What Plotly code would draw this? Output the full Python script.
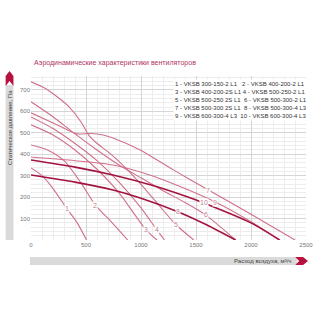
import numpy as np
import plotly.graph_objects as go

# ---- data ----
flow_1 = [0, 100, 200, 328, 420, 505]
pres_1 = [336, 300, 240, 145, 80, 0]
flow_2 = [0, 150, 300, 450, 585, 730, 880]
pres_2 = [443, 420, 370, 270, 163, 85, 0]
flow_3 = [0, 200, 400, 600, 800, 1046, 1145]
pres_3 = [537, 490, 420, 330, 220, 47, 0]
flow_4 = [0, 200, 400, 600, 800, 1000, 1144, 1214]
pres_4 = [574, 520, 450, 370, 270, 150, 47, 0]
flow_5 = [0, 124, 240, 346, 461, 523, 585, 700, 816, 1000, 1200, 1320, 1480]
pres_5 = [738, 709, 667, 621, 546, 490, 457, 411, 359, 260, 140, 70, 0]
flow_6 = [0, 200, 400, 600, 800, 1000, 1200, 1400, 1587, 1860]
pres_6 = [645, 575, 495, 420, 350, 290, 230, 175, 117, 0]
flow_7 = [0, 240, 418, 540, 656, 745, 993, 1294, 1613, 2000, 2400]
pres_7 = [593, 537, 495, 497, 490, 476, 420, 327, 233, 120, 0]
flow_8 = [0, 400, 745, 1000, 1340, 1600, 1860]
pres_8 = [303, 270, 233, 195, 131, 70, 0]
flow_9 = [0, 400, 745, 1100, 1400, 1676, 2000, 2260]
pres_9 = [387, 370, 350, 300, 240, 177, 85, 0]
flow_10 = [0, 400, 745, 1100, 1400, 1570, 2000, 2260]
pres_10 = [373, 340, 303, 255, 205, 173, 80, 0]

curve_ids = ["1", "2", "3", "4", "5", "6", "7", "8", "9", "10"]
label_flow = [328, 585, 1046, 1144, 1320, 1587, 1613, 1340, 1676, 1570]

legend_lines = [
    "1 - VKSB 300-150-2 L1   2 - VKSB 400-200-2 L1",
    "3 - VKSB 400-200-2S L1 4 - VKSB 500-250-2 L1",
    "5 - VKSB 500-250 2S L1  6 - VKSB 500-300-2 L1",
    "7 - VKSB 500-300 2S L1  8 - VKSB 500-300-4 L3",
    "9 - VKSB 600-300-4 L3  10 - VKSB 600-300-4 L3",
]

x_ticks = [0, 500, 1000, 1500, 2000, 2500]
y_ticks = [100, 200, 300, 400, 500, 600, 700]

title_text = "Аэродинамические характеристики вентиляторов"
y_title = "Статическое давление, Па"
x_title = "Расход воздуха, м³/ч"

flows = [flow_1, flow_2, flow_3, flow_4, flow_5, flow_6, flow_7, flow_8, flow_9, flow_10]
press = [pres_1, pres_2, pres_3, pres_4, pres_5, pres_6, pres_7, pres_8, pres_9, pres_10]

light = "#d0708b"
dark = "#a3133f"
colors = [light, light, light, light, light, light, light, dark, light, dark]
widths = [1.1, 1.1, 1.1, 1.1, 1.1, 1.1, 1.1, 1.6, 1.1, 1.6]

fig = go.Figure()
for f, p, c, w in zip(flows, press, colors, widths):
    fig.add_trace(go.Scatter(x=f, y=p, mode="lines", line=dict(color=c, width=w, shape="spline", smoothing=0.7),
                             hoverinfo="skip", showlegend=False))

for cid, lf, f, p in zip(curve_ids, label_flow, flows, press):
    fig.add_annotation(x=lf, y=float(np.interp(lf, f, p)), text=cid, showarrow=False,
                       font=dict(size=7, color="#c08090", family="Liberation Sans"),
                       bgcolor="white", borderpad=0)

W, H = 325, 325
L, R, T, B = 31, 313, 76, 240


def px(x):
    return (x - L) / (R - L)


def py(y):
    return (B - y) / (B - T)


shapes = []
# y-axis side bar
shapes.append(dict(type="rect", xref="paper", yref="paper", x0=px(5), x1=px(13), y0=py(240), y1=py(85),
                   fillcolor="#dadada", line=dict(width=0), layer="below"))
shapes.append(dict(type="path", xref="paper", yref="paper",
                   path=f"M {px(5)},{py(86)} L {px(5)},{py(76)} L {px(9)},{py(71)} L {px(13)},{py(76)} L {px(13)},{py(86)} L {px(9)},{py(81)} Z",
                   fillcolor="#b5123e", line=dict(width=0)))
# x-axis bottom bar
shapes.append(dict(type="rect", xref="paper", yref="paper", x0=px(30), x1=px(304), y0=py(265), y1=py(257),
                   fillcolor="#dadada", line=dict(width=0), layer="below"))
shapes.append(dict(type="path", xref="paper", yref="paper",
                   path=f"M {px(302)},{py(257)} L {px(310)},{py(257)} L {px(315)},{py(261)} L {px(310)},{py(265)} L {px(302)},{py(265)} L {px(306)},{py(261)} Z",
                   fillcolor="#b5123e", line=dict(width=0)))
fig.update_layout(shapes=shapes)

fig.add_annotation(xref="paper", yref="paper", x=px(32), y=py(63), text=title_text, showarrow=False,
                   xanchor="left", yanchor="middle", font=dict(size=7, color="#b03464", family="Liberation Sans"))
fig.add_annotation(xref="paper", yref="paper", x=px(9), y=py(88), text=y_title, showarrow=False, textangle=-90,
                   xanchor="center", yanchor="top", font=dict(size=6, color="#444", family="Liberation Sans"))
fig.add_annotation(xref="paper", yref="paper", x=px(300), y=py(261), text=x_title, showarrow=False,
                   xanchor="right", yanchor="middle", font=dict(size=6, color="#444", family="Liberation Sans"))

for i, line in enumerate(legend_lines):
    fig.add_annotation(xref="paper", yref="paper", x=px(177), y=py(84 + 8 * i), text=line, showarrow=False,
                       xanchor="left", yanchor="middle", bgcolor="white",
                       font=dict(size=6, color="#333", family="Liberation Sans"))

fig.update_xaxes(range=[0, 2500], tickvals=x_ticks, ticktext=[str(v) for v in x_ticks],
                 showgrid=True, gridcolor="#d5d5d5", gridwidth=1,
                 minor=dict(dtick=100, showgrid=True, gridcolor="#ededed", gridwidth=1),
                 zeroline=False, showline=False, ticks="",
                 tickfont=dict(size=6, color="#777", family="Liberation Sans"))
fig.update_yaxes(range=[0, 765], tickvals=y_ticks, ticktext=[str(v) for v in y_ticks],
                 showgrid=True, gridcolor="#d5d5d5", gridwidth=1,
                 minor=dict(dtick=20, showgrid=True, gridcolor="#ededed", gridwidth=1),
                 zeroline=False, showline=False, ticks="",
                 tickfont=dict(size=6, color="#777", family="Liberation Sans"))

fig.update_layout(width=W, height=H, margin=dict(l=L, r=W - R, t=T, b=H - B),
                  paper_bgcolor="white", plot_bgcolor="white")

fig.write_html("out.html")
